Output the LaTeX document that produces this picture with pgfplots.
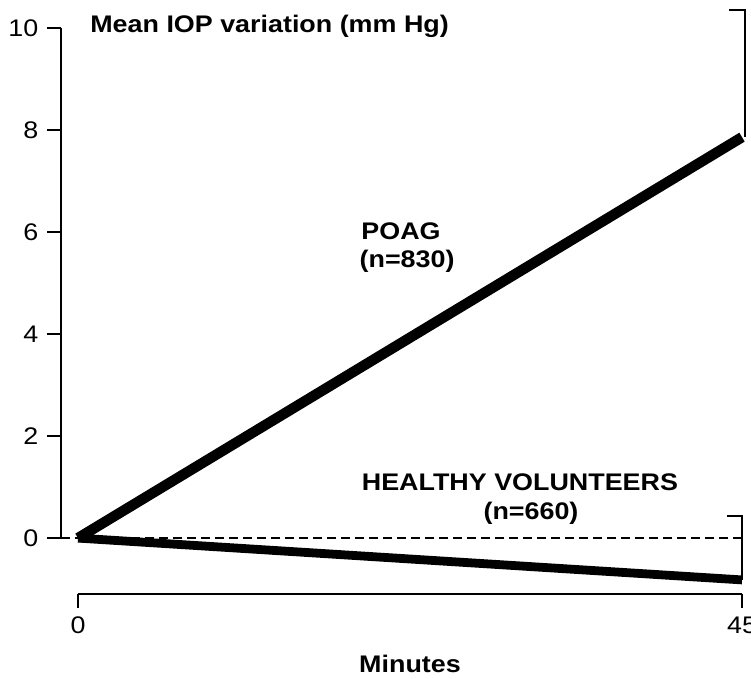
\documentclass[border=0pt]{standalone}
\usepackage{pgfplots}
\pgfplotsset{compat=1.18}
\usepackage{fontspec}
\setmainfont[FakeStretch=1.12]{Liberation Sans}
\begin{document}
\begin{tikzpicture}
\begin{axis}[
  scale only axis,
  width=345pt, height=297.1pt,
  xmin=-1.152, xmax=45.608,
  ymin=-1.10, ymax=10.549,
  clip=false,
  axis line style={draw=none},
  xtick={0,45}, ytick={0,2,4,6,8,10},
  xtick pos=bottom, ytick pos=left,
  tick align=outside,
  major tick length=6.8pt,
  every tick/.style={black, line width=1pt},
  tick label style={font=\fontsize{12}{14}\selectfont},
  /pgf/number format/assume math mode=true,
  yticklabel style={xshift=-1pt},
  xticklabel style={yshift=-1pt},
]
% axis lines
\draw[line width=1pt] (axis cs:-1.152,0) -- (axis cs:-1.152,10);
\draw[line width=1pt] (axis cs:0,-1.10) -- (axis cs:45,-1.10);
% zero reference
\addplot[black, line width=0.9pt, dash pattern=on 4.5pt off 2.5pt] coordinates {(-1.152,0) (45,0)};
% POAG
\addplot[black, line width=5.2pt] coordinates {(0,0) (45,7.86)};
\addplot[black, line width=1pt] coordinates {(44.1,10.35) (45.2,10.35) (45.2,7.86)};
% Healthy volunteers
\addplot[black, line width=4.4pt] coordinates {(0,0) (45,-0.82)};
\addplot[black, line width=1pt] coordinates {(43.98,0.43) (45.0,0.43) (45.0,-0.82)};
% texts
\node[anchor=base west, font=\fontsize{12}{14}\selectfont\bfseries, inner sep=0pt] at (axis cs:0.81,9.92) {Mean IOP variation (mm Hg)};
\node[anchor=base, font=\fontsize{12}{14}\selectfont\bfseries, inner sep=0pt] at (axis cs:21.89,5.863) {POAG};
\node[anchor=base, font=\fontsize{12}{14}\selectfont\bfseries, inner sep=0pt] at (axis cs:22.3,5.314) {(n=830)};
\node[anchor=base, font=\fontsize{12}{14}\selectfont\bfseries, inner sep=0pt] at (axis cs:29.95,0.941) {HEALTHY VOLUNTEERS};
\node[anchor=base, font=\fontsize{12}{14}\selectfont\bfseries, inner sep=0pt] at (axis cs:30.7,0.373) {(n=660)};
\node[anchor=base, font=\fontsize{12}{14}\selectfont\bfseries, inner sep=0pt] at (axis cs:22.5,-2.627) {Minutes};
\coordinate (BL) at (axis cs:-5.286,-2.745);
\coordinate (TR) at (axis cs:45.608,10.549);
\end{axis}
\pgfresetboundingbox
\path[use as bounding box] (BL) rectangle (TR);
\end{tikzpicture}
\end{document}
